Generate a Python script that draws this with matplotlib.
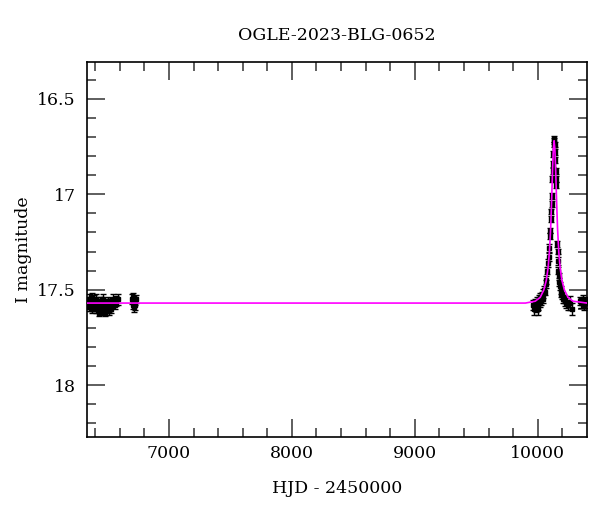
import matplotlib
matplotlib.use("Agg")
import matplotlib.pyplot as plt
from matplotlib.ticker import MultipleLocator

plt.rcParams['font.family'] = ['DejaVu Serif']

# 2013 season
hjd13 = [6342, 6348, 6353, 6359, 6364, 6370, 6376, 6381, 6387, 6393, 6398, 6404,
         6410, 6415, 6421, 6427, 6432, 6438, 6444, 6450, 6455, 6461, 6467, 6472,
         6478, 6484, 6490, 6496, 6503, 6510, 6518, 6527, 6536, 6546, 6557, 6570, 6585]
mag13 = [17.57, 17.55, 17.59, 17.56, 17.58, 17.60, 17.54, 17.57, 17.59, 17.56, 17.58, 17.55,
         17.60, 17.57, 17.59, 17.62, 17.58, 17.56, 17.60, 17.57, 17.61, 17.59, 17.55, 17.58,
         17.62, 17.60, 17.57, 17.59, 17.56, 17.61, 17.58, 17.60, 17.57, 17.55, 17.58, 17.56, 17.55]
err13 = [0.02, 0.025, 0.02, 0.02, 0.03, 0.02, 0.025, 0.02, 0.02, 0.03, 0.02, 0.025,
         0.02, 0.02, 0.03, 0.02, 0.025, 0.02, 0.02, 0.03, 0.02, 0.02, 0.025, 0.02,
         0.02, 0.03, 0.02, 0.025, 0.02, 0.02, 0.03, 0.02, 0.025, 0.03, 0.02, 0.025, 0.03]

# 2014 season start
hjd14 = [6702, 6706, 6710, 6714, 6718, 6722, 6726, 6730]
mag14 = [17.55, 17.58, 17.54, 17.57, 17.59, 17.56, 17.58, 17.55]
err14 = [0.025, 0.02, 0.025, 0.02, 0.025, 0.02, 0.025, 0.02]

# 2023-2024 seasons (event)
hjd23 = [9965, 9972, 9978, 9985, 9991, 9998, 10004, 10010, 10016, 10022, 10028, 10034,
         10040, 10046, 10052, 10058, 10064, 10070, 10076, 10082,
         10088, 10092, 10096, 10100, 10104, 10108, 10112, 10116, 10119, 10122, 10125,
         10128, 10131, 10133, 10135, 10137, 10140, 10143, 10146, 10149, 10152,
         10158, 10161, 10164, 10168, 10172, 10176, 10181, 10186, 10192, 10198,
         10205, 10212, 10220, 10230, 10242, 10260, 10280,
         10345, 10355, 10365, 10375, 10385, 10395]
mag23 = [17.58, 17.60, 17.57, 17.59, 17.56, 17.60, 17.58, 17.55, 17.57, 17.54, 17.56, 17.53,
         17.55, 17.52, 17.50, 17.51, 17.47, 17.45, 17.40, 17.36,
         17.33, 17.28, 17.22, 17.19, 17.13, 17.09, 17.05, 17.01, 16.92, 16.88, 16.84,
         16.79, 16.74, 16.71, 16.72, 16.74, 16.78, 16.82, 16.88, 16.92, 16.95,
         17.26, 17.30, 17.35, 17.40, 17.43, 17.46, 17.48, 17.50, 17.52, 17.53,
         17.55, 17.55, 17.56, 17.57, 17.58, 17.57, 17.60,
         17.56, 17.57, 17.55, 17.58, 17.56, 17.57]
err23 = [0.025, 0.03, 0.02, 0.025, 0.02, 0.03, 0.025, 0.02, 0.02, 0.025, 0.02, 0.02,
         0.02, 0.025, 0.02, 0.02, 0.02, 0.02, 0.02, 0.02,
         0.02, 0.02, 0.015, 0.015, 0.015, 0.015, 0.015, 0.015, 0.015, 0.015, 0.015,
         0.015, 0.015, 0.015, 0.015, 0.015, 0.015, 0.015, 0.015, 0.015, 0.015,
         0.015, 0.015, 0.02, 0.02, 0.02, 0.02, 0.02, 0.02, 0.02, 0.02,
         0.02, 0.02, 0.025, 0.025, 0.025, 0.035, 0.03,
         0.02, 0.025, 0.02, 0.025, 0.02, 0.025]

# model curve
model_t = [6333, 9900, 9980, 10020, 10050, 10070, 10085, 10095, 10105, 10113, 10120,
           10127, 10133, 10139, 10146, 10153, 10161, 10171, 10181, 10196, 10216,
           10246, 10286, 10400]
model_m = [17.57, 17.57, 17.56, 17.54, 17.50, 17.45, 17.38, 17.30, 17.18, 17.03, 16.88,
           16.76, 16.72, 16.76, 16.88, 17.03, 17.18, 17.30, 17.38, 17.45, 17.50,
           17.54, 17.56, 17.57]

fig = plt.figure(figsize=(6, 5.12), dpi=100)
ax = fig.add_axes([0.145, 0.147, 0.833, 0.731])

for t, m, e in [(hjd13, mag13, err13), (hjd14, mag14, err14), (hjd23, mag23, err23)]:
    ax.errorbar(t, m, yerr=e, fmt='s', color='black', ms=3.2, elinewidth=1,
                capsize=2, capthick=1, zorder=2)

ax.plot(model_t, model_m, color='#ff00ff', lw=1.2, zorder=3)

ax.set_xlim(6333, 10399)
ax.set_ylim(18.27, 16.31)

ax.xaxis.set_major_locator(MultipleLocator(1000))
ax.xaxis.set_minor_locator(MultipleLocator(200))
ax.yaxis.set_major_locator(MultipleLocator(0.5))
ax.yaxis.set_minor_locator(MultipleLocator(0.1))
ax.yaxis.set_major_formatter(plt.FuncFormatter(lambda v, p: f"{v:g}"))

ax.tick_params(which='both', direction='in', top=True, right=True, width=1.1,
               labelsize=12.5, color='#333333')
ax.tick_params(which='major', length=13)
ax.tick_params(which='minor', length=6.5)
ax.tick_params(axis='x', pad=6)
ax.tick_params(axis='y', pad=8)
for s in ax.spines.values():
    s.set_linewidth(1.2)

ax.set_xlabel('HJD - 2450000', fontsize=12.5, labelpad=13)
ax.set_ylabel('I magnitude', fontsize=12.5, labelpad=4)
ax.set_title('OGLE-2023-BLG-0652', fontsize=12.5, pad=16)

fig.savefig('out.png', dpi=100)
